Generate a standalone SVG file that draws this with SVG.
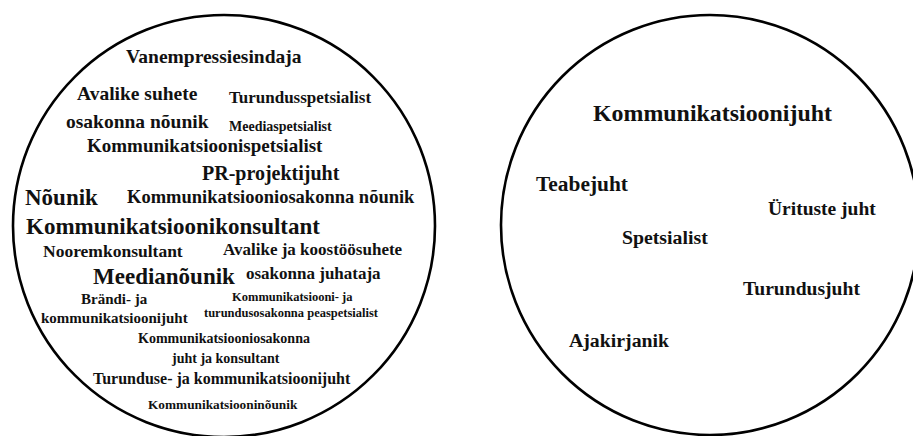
<svg xmlns="http://www.w3.org/2000/svg" width="913" height="436" viewBox="0 0 913 436">
<style>
.ring{fill:none;stroke:#000;stroke-width:2.6}
text{font-family:"Liberation Serif","Times New Roman",serif;font-weight:bold;fill:#111}
</style>
<rect width="913" height="436" fill="#fff"/>
<g id="circle-left"><ellipse class="ring" cx="224" cy="226" rx="211" ry="211"/></g>
<g id="circle-right"><ellipse class="ring" cx="710" cy="225" rx="209" ry="210"/></g>
<g id="left-terms">
<g id="t-vanempressiesindaja"><text x="126" y="63" font-size="19.5">Vanempressiesindaja</text></g>
<g id="t-avalike-suhete"><text x="77" y="100" font-size="19.5">Avalike suhete</text></g>
<g id="t-osakonna-nounik"><text x="66" y="128" font-size="19.5">osakonna nõunik</text></g>
<g id="t-turundusspetsialist"><text x="229" y="103" font-size="17">Turundusspetsialist</text></g>
<g id="t-meediaspetsialist"><text x="229" y="131" font-size="14">Meediaspetsialist</text></g>
<g id="t-kommunikatsioonispetsialist"><text x="87" y="152" font-size="19">Kommunikatsioonispetsialist</text></g>
<g id="t-pr-projektijuht"><text x="202" y="180" font-size="20">PR-projektijuht</text></g>
<g id="t-nounik"><text x="25" y="205" font-size="23">Nõunik</text></g>
<g id="t-kommunikatsiooniosakonna-nounik"><text x="127" y="203" font-size="18.5">Kommunikatsiooniosakonna nõunik</text></g>
<g id="t-kommunikatsioonikonsultant"><text x="26" y="234" font-size="23">Kommunikatsioonikonsultant</text></g>
<g id="t-nooremkonsultant"><text x="43" y="257" font-size="17.5">Nooremkonsultant</text></g>
<g id="t-avalike-ja-koostoosuhete"><text x="223" y="255" font-size="17">Avalike ja koostöösuhete</text><text x="246" y="279" font-size="17">osakonna juhataja</text></g>
<g id="t-meedianounik"><text x="93" y="284" font-size="23">Meedianõunik</text></g>
<g id="t-brandi-ja-kommunikatsioonijuht"><text x="81" y="304" font-size="15">Brändi- ja</text><text x="41" y="323" font-size="15">kommunikatsioonijuht</text></g>
<g id="t-kommunikatsiooni-ja-turundusosakonna"><text x="232" y="301" font-size="12.5">Kommunikatsiooni- ja</text><text x="204" y="317" font-size="12.5">turundusosakonna peaspetsialist</text></g>
<g id="t-kommunikatsiooniosakonna-juht"><text x="138" y="343" font-size="14">Kommunikatsiooniosakonna</text><text x="172" y="363" font-size="14">juht ja konsultant</text></g>
<g id="t-turunduse-ja-kommunikatsioonijuht"><text x="93" y="384" font-size="16">Turunduse- ja kommunikatsioonijuht</text></g>
<g id="t-kommunikatsiooninounik"><text x="148" y="409" font-size="13.3">Kommunikatsiooninõunik</text></g>
</g>
<g id="right-terms">
<g id="t-kommunikatsioonijuht"><text x="593" y="121" font-size="23.9">Kommunikatsioonijuht</text></g>
<g id="t-teabejuht"><text x="536" y="191" font-size="21.4">Teabejuht</text></g>
<g id="t-urituste-juht"><text x="768" y="215" font-size="19.5">Ürituste juht</text></g>
<g id="t-spetsialist"><text x="622" y="244" font-size="19.8">Spetsialist</text></g>
<g id="t-turundusjuht"><text x="743" y="295" font-size="19.6">Turundusjuht</text></g>
<g id="t-ajakirjanik"><text x="569" y="347" font-size="19.8">Ajakirjanik</text></g>
</g>
</svg>
